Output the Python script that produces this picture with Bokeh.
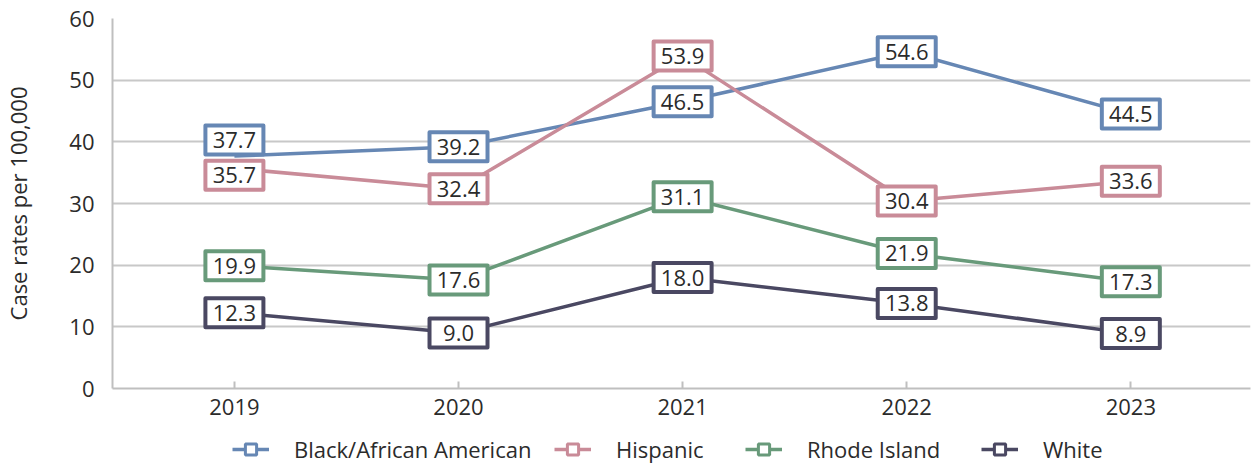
from bokeh.plotting import figure
from bokeh.layouts import column
from bokeh.models import Range1d, FixedTicker, Legend, LegendItem, ColumnDataSource
from bokeh.core.properties import value
from bokeh.embed import file_html
from bokeh.resources import INLINE

# ---- data -------------------------------------------------------------
years = [2019, 2020, 2021, 2022, 2023]
black_african_american = [37.7, 39.2, 46.5, 54.6, 44.5]
hispanic = [35.7, 32.4, 53.9, 30.4, 33.6]
rhode_island = [19.9, 17.6, 31.1, 21.9, 17.3]
white = [12.3, 9.0, 18.0, 13.8, 8.9]

series_names = ["Black/African American", "Hispanic", "Rhode Island", "White"]
series_values = [black_african_american, hispanic, rhode_island, white]
y_ticks = [0, 10, 20, 30, 40, 50, 60]
y_title = "Case rates per 100,000"

# ---- styling / layout -------------------------------------------------
colors = ["#6687b4", "#c98b98", "#689a7a", "#4a4862"]
FONT = "Open Sans"
TEXT_COLOR = "#2b2b2b"
GRID_COLOR = "#c8c8c8"

W = 1251
CHART_H, LEGEND_H = 430, 36
FRAME_LEFT, FRAME_TOP, FRAME_BOTTOM, FRAME_RIGHT = 109, 18, 42, 1
Y_START, Y_END = 0, 60
X_START, X_END = 2018.456, 2023.534
px_per_unit = (CHART_H - FRAME_TOP - FRAME_BOTTOM) / (Y_END - Y_START)

# vertical nudges (screen px, up is positive) so close labels do not collide
label_nudge_px = {(0, 2019): 16, (1, 2019): -7}
# left edge of each legend entry, px from the left side of the plotting area
legend_left_px = [120, 442, 633, 869]

p = figure(
    width=W, height=CHART_H,
    x_range=Range1d(X_START, X_END), y_range=Range1d(Y_START, Y_END),
    output_backend="svg", toolbar_location=None,
    min_border_left=FRAME_LEFT, min_border_top=FRAME_TOP,
    min_border_bottom=FRAME_BOTTOM, min_border_right=FRAME_RIGHT,
    outline_line_color=None, background_fill_color="white",
    border_fill_color="white",
)

# axes
p.xaxis.ticker = FixedTicker(ticks=years)
p.yaxis.ticker = FixedTicker(ticks=y_ticks)
for ax in (p.xaxis, p.yaxis):
    ax.axis_line_color = "#bfbfbf"
    ax.axis_line_width = 2
    ax.major_label_text_font = FONT
    ax.major_label_text_font_size = "22px"
    ax.major_label_text_color = TEXT_COLOR
    ax.minor_tick_line_color = None
p.xaxis.major_tick_line_color = "#bfbfbf"
p.xaxis.major_tick_line_width = 2
p.xaxis.major_tick_in = 7
p.xaxis.major_tick_out = 0
p.xaxis.major_label_standoff = 10
p.yaxis.major_tick_line_color = None
p.yaxis.major_label_standoff = 12
p.yaxis.axis_label = y_title
p.yaxis.axis_label_text_font = FONT
p.yaxis.axis_label_text_font_size = "22px"
p.yaxis.axis_label_text_font_style = "normal"
p.yaxis.axis_label_text_color = TEXT_COLOR
p.yaxis.axis_label_standoff = 33

p.xgrid.grid_line_color = None
p.ygrid.grid_line_color = GRID_COLOR
p.ygrid.grid_line_width = 2

# lines
for vals, col in zip(series_values, colors):
    p.line(years, vals, line_color=col, line_width=3.5, line_join="round")

# boxed value labels
for i, (vals, col) in enumerate(zip(series_values, colors)):
    ys = [v + label_nudge_px.get((i, yr), 0) / px_per_unit for yr, v in zip(years, vals)]
    src = ColumnDataSource(dict(x=years, y=ys, t=[f"{v:.1f}" for v in vals]))
    p.rect("x", "y", width=58, height=29, width_units="screen", height_units="screen",
           fill_color="white", line_color=col, line_width=4, line_join="round", source=src)
    p.text("x", "y", text="t", source=src, text_align="center", text_baseline="middle",
           text_font=value(FONT), text_font_size="22px", text_color=TEXT_COLOR)

# legend strip: a line with a hollow square for each series
lg = figure(
    width=W, height=LEGEND_H, x_range=Range1d(0, 1), y_range=Range1d(0, 1),
    output_backend="svg", toolbar_location=None,
    x_axis_type=None, y_axis_type=None,
    min_border_left=0, min_border_right=0, min_border_top=0, min_border_bottom=0,
    outline_line_color=None, background_fill_color="white", border_fill_color="white",
)
lg.xgrid.grid_line_color = None
lg.ygrid.grid_line_color = None
nan = float("nan")
for i, (name, col) in enumerate(zip(series_names, colors)):
    ln = lg.line([nan, nan], [nan, nan], line_color=col, line_width=3.5)
    sq = lg.scatter([nan], [nan], marker="square", size=10, fill_color="white",
                    line_color=col, line_width=3)
    leg = Legend(
        items=[LegendItem(label=name, renderers=[ln, sq])],
        location=(legend_left_px[i], 2), orientation="horizontal",
        glyph_width=37, glyph_height=28, label_standoff=25, padding=0, margin=0,
        border_line_color=None, background_fill_alpha=0,
        label_text_font=FONT, label_text_font_size="22px", label_text_color=TEXT_COLOR,
    )
    lg.add_layout(leg, "center")

layout = column(p, lg, spacing=0)
open("out.html", "w").write(file_html(layout, INLINE))
